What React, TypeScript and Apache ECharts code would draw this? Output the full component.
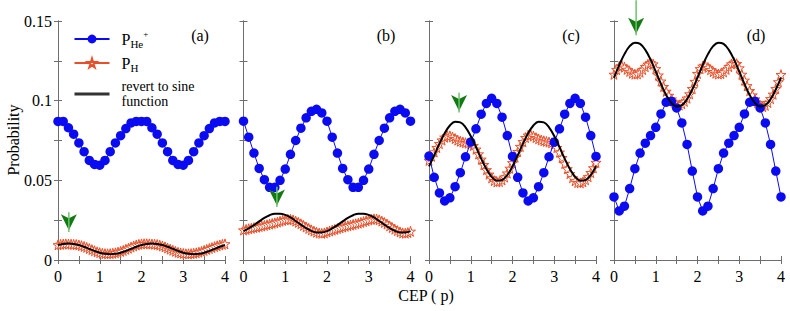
import React, { useEffect, useRef } from 'react';
import * as echarts from 'echarts';

const panelLabels = ['(a)', '(b)', '(c)', '(d)'];
const xAxisName = 'CEP ( p)';
const yAxisName = 'Probability';

// P_He+ (33 points, CEP 0..4)
const heA = [0.087, 0.087, 0.083, 0.079, 0.0735, 0.068, 0.0625, 0.06, 0.0595, 0.0625, 0.068, 0.0735, 0.078, 0.0825, 0.086, 0.087, 0.087,
  0.087, 0.083, 0.079, 0.0735, 0.068, 0.0625, 0.06, 0.0595, 0.0625, 0.068, 0.0735, 0.078, 0.0825, 0.086, 0.087, 0.087];
const heB = [0.0871, 0.0771, 0.0671, 0.0575, 0.0504, 0.0456, 0.0456, 0.05, 0.0571, 0.0663, 0.075, 0.0827, 0.0892, 0.0933, 0.0946, 0.0923,
  0.0871, 0.0771, 0.0671, 0.0575, 0.0504, 0.0456, 0.0456, 0.05, 0.0571, 0.0663, 0.075, 0.0827, 0.0892, 0.0933, 0.0946, 0.0923, 0.0871];
const heC = [0.0652, 0.0519, 0.0421, 0.0371, 0.039, 0.046, 0.0548, 0.0648, 0.074, 0.0823, 0.0915, 0.0983, 0.1015, 0.0983, 0.0896, 0.0781,
  0.065, 0.0519, 0.0421, 0.0371, 0.039, 0.046, 0.0548, 0.0648, 0.074, 0.0823, 0.0915, 0.0983, 0.1015, 0.0983, 0.0896, 0.0781, 0.065];
const heD = [0.0396, 0.0308, 0.0338, 0.0448, 0.0573, 0.0671, 0.0733, 0.0781, 0.0833, 0.0917, 0.099, 0.0996, 0.0954, 0.086, 0.0725, 0.0558,
  0.0396, 0.0308, 0.0338, 0.0448, 0.0573, 0.0671, 0.0733, 0.0781, 0.0833, 0.0917, 0.099, 0.0996, 0.0954, 0.086, 0.0725, 0.0558, 0.0396];

// P_H (65 points, CEP 0..4)
const hA = [0.0095, 0.0098, 0.01, 0.0101, 0.01, 0.0099, 0.0098, 0.0097, 0.0094, 0.009, 0.0085, 0.0079, 0.0072, 0.0065, 0.0058, 0.0051,
  0.0046, 0.0042, 0.004, 0.0039, 0.004, 0.0042, 0.0045, 0.0049, 0.0054, 0.006, 0.0067, 0.0074, 0.0081, 0.0088, 0.0094, 0.0098,
  0.0101, 0.0102, 0.0102, 0.0101, 0.01, 0.0099, 0.0097, 0.0093, 0.0088, 0.0082, 0.0075, 0.0068, 0.0061, 0.0054, 0.0048, 0.0044,
  0.0041, 0.0039, 0.0039, 0.004, 0.0042, 0.0045, 0.0049, 0.0054, 0.006, 0.0066, 0.0072, 0.0078, 0.0084, 0.0089, 0.0094, 0.0098, 0.0101];
const hB = [0.0188, 0.0192, 0.0196, 0.0199, 0.0203, 0.0206, 0.021, 0.0213, 0.0217, 0.0221, 0.0225, 0.0229, 0.0233, 0.0238, 0.0243, 0.0248,
  0.0252, 0.0255, 0.0255, 0.0251, 0.0244, 0.0236, 0.0227, 0.0217, 0.0207, 0.0198, 0.0189, 0.0181, 0.0174, 0.0169, 0.0167, 0.017,
  0.0176, 0.0182, 0.0187, 0.0192, 0.0197, 0.0202, 0.0207, 0.0211, 0.0215, 0.0219, 0.0223, 0.0227, 0.0231, 0.0236, 0.0241, 0.0246,
  0.0251, 0.0255, 0.0258, 0.0257, 0.0252, 0.0244, 0.0235, 0.0225, 0.0214, 0.0203, 0.0193, 0.0184, 0.0176, 0.017, 0.0168, 0.0172, 0.018];
const hC = [0.0625, 0.065, 0.0678, 0.0705, 0.073, 0.0752, 0.077, 0.078, 0.0779, 0.0772, 0.0762, 0.0752, 0.0745, 0.074, 0.0736, 0.0733,
  0.0728, 0.0718, 0.0695, 0.0665, 0.0632, 0.0598, 0.0566, 0.0538, 0.0515, 0.0498, 0.049, 0.0492, 0.0502, 0.052, 0.0545, 0.0575,
  0.061, 0.0645, 0.068, 0.0712, 0.0742, 0.0768, 0.0783, 0.0785, 0.0778, 0.0768, 0.076, 0.0753, 0.0748, 0.0744, 0.074, 0.0735,
  0.0725, 0.0705, 0.0676, 0.0642, 0.0606, 0.0572, 0.0542, 0.0516, 0.0497, 0.0486, 0.0484, 0.049, 0.0503, 0.0522, 0.0548, 0.0578, 0.0612];
const hD = [0.1165, 0.1195, 0.1215, 0.1218, 0.121, 0.1196, 0.1183, 0.1172, 0.1166, 0.1168, 0.1178, 0.1195, 0.1213, 0.1228, 0.1238, 0.123,
  0.12, 0.116, 0.1122, 0.1088, 0.1058, 0.1033, 0.101, 0.099, 0.0975, 0.0972, 0.098, 0.0995, 0.1015, 0.1042, 0.1075, 0.112,
  0.117, 0.12, 0.1216, 0.1218, 0.1208, 0.1194, 0.1182, 0.1172, 0.1167, 0.117, 0.118, 0.1196, 0.1213, 0.123, 0.124, 0.1232,
  0.1205, 0.1165, 0.1128, 0.1093, 0.1062, 0.1035, 0.101, 0.0988, 0.097, 0.0962, 0.097, 0.0988, 0.1012, 0.104, 0.1075, 0.1118, 0.1163];

// "revert to sine function" curves (33 points, CEP 0..4)
const sA = [0.0094, 0.0101, 0.0104, 0.0101, 0.0094, 0.0083, 0.007, 0.0057, 0.0046, 0.0039, 0.0036, 0.0039, 0.0046, 0.0057, 0.007, 0.0083,
  0.0094, 0.0101, 0.0104, 0.0101, 0.0094, 0.0083, 0.007, 0.0057, 0.0046, 0.0039, 0.0036, 0.0039, 0.0046, 0.0057, 0.007, 0.0083, 0.0094];
const sB = [0.0181, 0.0198, 0.0219, 0.0242, 0.0264, 0.0281, 0.0291, 0.0291, 0.0283, 0.0267, 0.0245, 0.0222, 0.02, 0.0183, 0.0173, 0.0173,
  0.0181, 0.0198, 0.0219, 0.0242, 0.0264, 0.0281, 0.0291, 0.0291, 0.0283, 0.0267, 0.0245, 0.0222, 0.02, 0.0183, 0.0173, 0.0173, 0.0181];
const sC = [0.0588, 0.0657, 0.073, 0.0795, 0.0844, 0.0868, 0.0864, 0.0833, 0.0778, 0.0709, 0.0636, 0.0571, 0.0522, 0.0498, 0.0502, 0.0533,
  0.0588, 0.0657, 0.073, 0.0795, 0.0844, 0.0868, 0.0864, 0.0833, 0.0778, 0.0709, 0.0636, 0.0571, 0.0522, 0.0498, 0.0502, 0.0533, 0.0588];
const sD = [0.1145, 0.1223, 0.1292, 0.1342, 0.1364, 0.1356, 0.1319, 0.1258, 0.1183, 0.1105, 0.1036, 0.0986, 0.0964, 0.0972, 0.1009, 0.107,
  0.1145, 0.1223, 0.1292, 0.1342, 0.1364, 0.1356, 0.1319, 0.1258, 0.1183, 0.1105, 0.1036, 0.0986, 0.0964, 0.0972, 0.1009, 0.107, 0.1145];

// green arrows (CEP position, start value, tip value)
const arrowX = [0.26, 0.8, 0.72, 0.53];
const arrowTop = [0.03, 0.046, 0.105, 0.163];
const arrowTip = [0.0136, 0.0292, 0.0885, 0.137];

const heSets = [heA, heB, heC, heD];
const hSets = [hA, hB, hC, hD];
const sSets = [sA, sB, sC, sD];

const X_MIN = 0, X_MAX = 4, Y_MIN = 0, Y_MAX = 0.15;
const FONT = '"Liberation Serif", "Times New Roman", serif';
const BLUE = '#0b0bf2';
const ORANGE = '#e8502a';
const AXIS = '#6e6e6e';
const STAR = 'path://M50,0 L61,35 L98,35 L68,57 L79,91 L50,70 L21,91 L32,57 L2,35 L39,35 Z';

const toXY = (vals: number[]) => vals.map((v, i) => [(i * (X_MAX - X_MIN)) / (vals.length - 1) + X_MIN, v]);

const gridLefts = [58, 243.5, 429, 614];
const GRID_W = 167;
const GRID_TOP = 21;
const GRID_H = 239;

export default function App() {
  const ref = useRef<HTMLDivElement>(null);
  useEffect(() => {
    if (!ref.current) return;
    const chart = echarts.init(ref.current, null, { renderer: 'svg' });
    const grids: any[] = [];
    const xAxes: any[] = [];
    const yAxes: any[] = [];
    const series: any[] = [];
    for (let i = 0; i < 4; i++) {
      grids.push({ left: gridLefts[i], top: GRID_TOP, width: GRID_W, height: GRID_H });
      const baseX = {
        type: 'value', gridIndex: i, min: X_MIN, max: X_MAX, interval: 0.5,
        axisLine: { show: true, lineStyle: { color: AXIS, width: 1 } },
        axisTick: { show: true, inside: true, length: 4, lineStyle: { color: AXIS } },
        splitLine: { show: false },
      };
      xAxes.push({
        ...baseX, position: 'bottom',
        axisLabel: {
          show: true, margin: 8, color: '#000', fontFamily: FONT, fontSize: 16,
          formatter: (v: number) => (Math.abs(v - Math.round(v)) < 1e-6 ? String(Math.round(v)) : ''),
        },
      });
      xAxes.push({ ...baseX, position: 'top', axisLabel: { show: false } });
      const baseY = {
        type: 'value', gridIndex: i, min: Y_MIN, max: Y_MAX, interval: 0.025,
        axisLine: { show: true, lineStyle: { color: AXIS, width: 1 } },
        axisTick: { show: true, inside: true, length: 4, lineStyle: { color: AXIS } },
        splitLine: { show: false },
      };
      yAxes.push({
        ...baseY, position: 'left',
        axisLabel: {
          show: i === 0, margin: 6, color: '#000', fontFamily: FONT, fontSize: 16,
          formatter: (v: number) => {
            const k = Math.round(v / 0.025);
            return k % 2 === 0 ? String(parseFloat(v.toFixed(3))) : '';
          },
        },
      });
      yAxes.push({ ...baseY, position: 'right', axisLabel: { show: false } });

      series.push({
        name: 'PH', type: 'line', xAxisIndex: 2 * i, yAxisIndex: 2 * i,
        data: toXY(hSets[i]), symbol: STAR, symbolSize: 10, showSymbol: true,
        itemStyle: { color: '#ffffff', borderColor: ORANGE, borderWidth: 1 },
        lineStyle: { color: ORANGE, width: 1 },
        z: 2,
      });
      series.push({
        name: 'PHe', type: 'line', xAxisIndex: 2 * i, yAxisIndex: 2 * i,
        data: toXY(heSets[i]), symbol: 'circle', symbolSize: 9.5, showSymbol: true,
        itemStyle: { color: BLUE }, lineStyle: { color: BLUE, width: 1 },
        z: 3,
      });
      series.push({
        name: 'sine', type: 'line', xAxisIndex: 2 * i, yAxisIndex: 2 * i,
        data: toXY(sSets[i]), symbol: 'none', smooth: 0.4,
        itemStyle: { color: '#000' }, lineStyle: { color: '#000', width: 2 },
        z: 4,
      });
      series.push({
        name: 'arrow' + i, type: 'line', xAxisIndex: 2 * i, yAxisIndex: 2 * i,
        data: [[arrowX[i], arrowTop[i]], [arrowX[i], arrowTip[i] + 0.004]],
        symbol: 'none', clip: false, silent: true,
        lineStyle: { color: '#6cc46c', width: 1.5 },
        z: 5,
        markPoint: {
          symbol: 'arrow', symbolSize: [12, 16], symbolRotate: 180, symbolOffset: [0, -8],
          itemStyle: { color: '#137a13' }, label: { show: false }, silent: true,
          data: [{ coord: [arrowX[i], arrowTip[i]] }],
        },
      });
    }

    const graphics: any[] = [
      {
        type: 'text', x: 13, y: 140, rotation: Math.PI / 2,
        style: { text: yAxisName, font: `16px ${FONT}`, fill: '#000', align: 'center', verticalAlign: 'middle' },
      },
      {
        type: 'text', x: 426, y: 295,
        style: { text: xAxisName, font: `16px ${FONT}`, fill: '#000', align: 'center', verticalAlign: 'middle' },
      },
    ];
    const labelCenters = [200, 386, 571, 756];
    panelLabels.forEach((t, i) => {
      graphics.push({
        type: 'text', x: labelCenters[i], y: 35,
        style: { text: t, font: `16px ${FONT}`, fill: '#000', align: 'center', verticalAlign: 'middle' },
      });
    });

    chart.setOption({
      animation: false,
      backgroundColor: '#fff',
      textStyle: { fontFamily: FONT },
      grid: grids,
      xAxis: xAxes,
      yAxis: yAxes,
      series,
      graphic: graphics,
      legend: {
        data: [
          { name: 'PHe' },
          { name: 'PH' },
          { name: 'sine', itemStyle: { color: 'rgba(0,0,0,0)', borderWidth: 0, opacity: 0 }, lineStyle: { width: 3, color: '#333' } },
        ],
        orient: 'vertical', left: 73, top: 29, padding: 0,
        itemWidth: 35, itemHeight: 11, itemGap: 6,
        selectedMode: false,
        formatter: (name: string) => {
          if (name === 'PHe') return '{g| }{m|P}{s|He}{p|+}';
          if (name === 'PH') return '{g| }{m|P}{s|H}';
          return '{g| }{t|revert to sine}\n{g| }{t|function}';
        },
        textStyle: {
          fontFamily: FONT, color: '#000', fontSize: 15,
          rich: {
            g: { width: 7, fontFamily: FONT },
            m: { fontSize: 16, lineHeight: 20, fontFamily: FONT, color: '#000' },
            s: { fontSize: 11, lineHeight: 8, verticalAlign: 'bottom', fontFamily: FONT, color: '#000' },
            p: { fontSize: 9, lineHeight: 16, verticalAlign: 'top', fontFamily: FONT, color: '#000' },
            t: { fontSize: 14, lineHeight: 15, fontFamily: FONT, color: '#000' },
          },
        },
      },
    });
    return () => chart.dispose();
  }, []);
  return <div ref={ref} style={{ position: 'absolute', left: 0, top: 0, width: 790, height: 311 }} />;
}
